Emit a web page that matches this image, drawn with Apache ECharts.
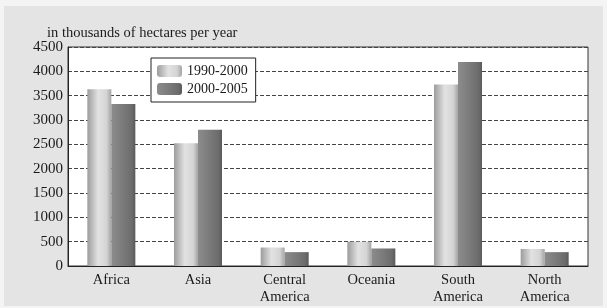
<!DOCTYPE html>
<html>
<head>
<meta charset="utf-8">
<script src="https://cdn.jsdelivr.net/npm/echarts@6/dist/echarts.min.js"></script>
<style>
  html, body { margin: 0; padding: 0; background: #f4f4f4; }
  #main { position: absolute; left: 4px; top: 6px; width: 599px; height: 300px; background: #e4e4e4; }
</style>
</head>
<body>
<div id="main"></div>
<script>
// 各地区森林面积年净减少量 (千公顷/年)
const regions = ['Africa', 'Asia', 'Central\nAmerica', 'Oceania', 'South\nAmerica', 'North\nAmerica']
const loss1990 = [3630, 2520, 380, 500, 3730, 350]   // 1990-2000
const loss2000 = [3330, 2800, 285, 360, 4190, 285]   // 2000-2005
const yTicks = [0, 500, 1000, 1500, 2000, 2500, 3000, 3500, 4000, 4500]

const serif = '"Liberation Serif", "DejaVu Serif", serif'

function grad(stops) {
  return new echarts.graphic.LinearGradient(0, 0, 1, 0, stops)
}
const lightBar = grad([
  { offset: 0, color: '#9c9c9c' },
  { offset: 0.45, color: '#e2e2e2' },
  { offset: 0.8, color: '#d4d4d4' },
  { offset: 1, color: '#a4a4a4' }
])
const darkBar = grad([
  { offset: 0, color: '#8c8c8c' },
  { offset: 0.5, color: '#7a7a7a' },
  { offset: 0.85, color: '#6c6c6c' },
  { offset: 1, color: '#5a5a5a' }
])

const chart = echarts.init(document.getElementById('main'))
chart.setOption({
  animation: false,
  textStyle: { fontFamily: serif },
  title: {
    text: 'in thousands of hectares per year',
    left: 38,
    top: 15,
    textStyle: { fontFamily: serif, fontSize: 14.5, fontWeight: 'normal', color: '#1a1a1a' }
  },
  legend: {
    orient: 'vertical',
    left: 147,
    top: 52,
    padding: [6, 8, 6, 6],
    itemGap: 4,
    itemWidth: 25,
    itemHeight: 12,
    backgroundColor: '#fff',
    borderColor: '#222',
    borderWidth: 1,
    borderRadius: 0,
    textStyle: { fontFamily: serif, fontSize: 14, color: '#1a1a1a' },
    data: ['1990-2000', '2000-2005']
  },
  grid: {
    left: 64,
    right: 15,
    top: 41,
    bottom: 37,
    show: true,
    backgroundColor: '#fff',
    borderColor: '#333',
    borderWidth: 1
  },
  xAxis: {
    type: 'category',
    data: regions,
    axisLine: { lineStyle: { color: '#222' } },
    axisTick: { inside: true, length: 7, lineStyle: { color: '#222' } },
    axisLabel: { fontFamily: serif, fontSize: 14.5, color: '#1a1a1a', lineHeight: 17, margin: 6 }
  },
  yAxis: {
    type: 'value',
    min: 0,
    max: 4500,
    interval: 500,
    axisLine: { show: true, lineStyle: { color: '#222' } },
    axisTick: { show: false },
    axisLabel: {
      fontFamily: serif, fontSize: 15, color: '#1a1a1a', margin: 5,
      formatter: v => yTicks.includes(v) ? String(v) : ''
    },
    splitLine: { lineStyle: { color: '#444', type: [4, 2], width: 1 } }
  },
  series: [{
    name: '1990-2000',
    type: 'bar',
    data: loss1990,
    barWidth: 24,
    barGap: '0%',
    itemStyle: { color: lightBar }
  }, {
    name: '2000-2005',
    type: 'bar',
    data: loss2000,
    barWidth: 24,
    barGap: '0%',
    itemStyle: { color: darkBar }
  }]
})
</script>
</body>
</html>
